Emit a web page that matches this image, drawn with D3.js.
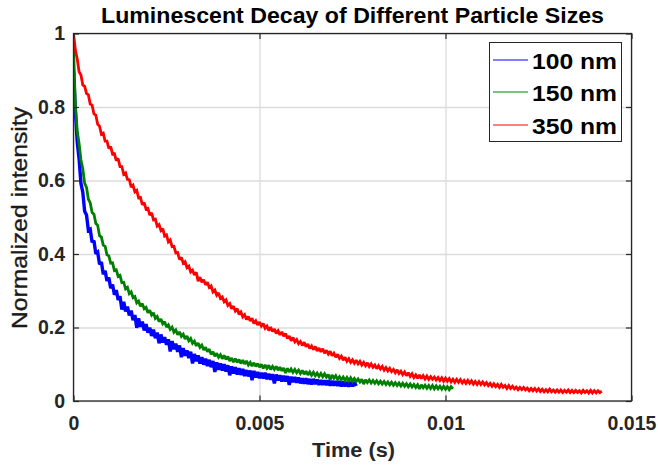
<!DOCTYPE html>
<html>
<head>
<meta charset="utf-8">
<script src="https://cdn.jsdelivr.net/npm/d3@7/dist/d3.min.js"></script>
<style>
  html, body { margin: 0; padding: 0; background: #fff; }
  svg { display: block; }
  text { font-family: "Liberation Sans", Arial, Helvetica, sans-serif; }
</style>
</head>
<body>
<svg id="chart" width="658" height="469"></svg>
<script>
// Sampling interval of the decay traces (seconds per sample)
const sampleInterval = 0.00005;

// Normalized luminescence intensity, one sample every sampleInterval
const intensity100nm = [
  0.900,0.788,0.705,0.659,0.592,0.568,0.516,0.506,0.464,0.467,
  0.432,0.436,0.401,0.405,0.372,0.378,0.345,0.354,0.327,0.336,
  0.307,0.317,0.289,0.302,0.275,0.285,0.249,0.270,0.244,0.257,
  0.233,0.246,0.220,0.234,0.199,0.225,0.202,0.216,0.192,0.209,
  0.186,0.200,0.177,0.194,0.171,0.186,0.157,0.181,0.159,0.174,
  0.153,0.168,0.135,0.163,0.141,0.156,0.134,0.151,0.119,0.144,
  0.123,0.138,0.117,0.134,0.102,0.128,0.108,0.124,0.102,0.119,
  0.099,0.115,0.095,0.112,0.092,0.109,0.079,0.105,0.085,0.102,
  0.083,0.100,0.080,0.097,0.070,0.094,0.075,0.092,0.072,0.089,
  0.071,0.087,0.068,0.084,0.067,0.083,0.057,0.082,0.064,0.079,
  0.062,0.077,0.061,0.077,0.059,0.074,0.058,0.073,0.048,0.072,
  0.056,0.070,0.053,0.069,0.053,0.068,0.044,0.066,0.051,0.065,
  0.050,0.064,0.048,0.062,0.047,0.062,0.046,0.060,0.045,0.060,
  0.046,0.058,0.044,0.057,0.044,0.056,0.043,0.056,0.042,0.055,
  0.042,0.054,0.041,0.054,0.040,0.053,0.040,0.052,0.039,0.052,
  0.040,0.052,0.041
];

const intensity150nm = [
  0.960,0.806,0.735,0.701,0.656,0.632,0.592,0.581,0.549,0.539,
  0.513,0.508,0.483,0.478,0.450,0.446,0.424,0.421,0.398,0.395,
  0.375,0.376,0.355,0.357,0.339,0.342,0.322,0.323,0.305,0.309,
  0.292,0.297,0.281,0.284,0.267,0.272,0.258,0.265,0.251,0.255,
  0.240,0.247,0.234,0.240,0.225,0.230,0.216,0.223,0.210,0.216,
  0.201,0.207,0.195,0.201,0.187,0.193,0.180,0.188,0.176,0.182,
  0.169,0.177,0.164,0.170,0.157,0.163,0.150,0.158,0.146,0.152,
  0.139,0.146,0.134,0.141,0.127,0.134,0.122,0.130,0.119,0.126,
  0.115,0.124,0.113,0.121,0.109,0.117,0.106,0.115,0.105,0.113,
  0.102,0.111,0.101,0.109,0.098,0.105,0.095,0.104,0.094,0.102,
  0.092,0.100,0.089,0.098,0.089,0.097,0.086,0.094,0.086,0.094,
  0.084,0.092,0.082,0.090,0.076,0.089,0.079,0.087,0.078,0.086,
  0.077,0.084,0.075,0.083,0.073,0.081,0.071,0.079,0.070,0.078,
  0.069,0.076,0.067,0.075,0.066,0.074,0.065,0.072,0.058,0.071,
  0.062,0.069,0.059,0.066,0.058,0.065,0.056,0.064,0.055,0.063,
  0.054,0.061,0.053,0.060,0.052,0.059,0.046,0.058,0.050,0.057,
  0.049,0.056,0.048,0.055,0.047,0.054,0.046,0.053,0.045,0.052,
  0.044,0.051,0.043,0.050,0.042,0.049,0.041,0.048,0.040,0.047,
  0.039,0.046,0.038,0.045,0.037,0.044,0.033,0.044,0.036,0.043,
  0.035,0.042,0.034,0.042,0.033,0.041,0.033,0.040,0.032,0.040,
  0.032,0.039,0.031,0.039,0.033
];

const intensity350nm = [
  1.000,0.955,0.931,0.896,0.887,0.860,0.856,0.837,0.833,0.808,
  0.805,0.781,0.778,0.753,0.748,0.726,0.729,0.707,0.707,0.687,
  0.692,0.672,0.673,0.654,0.660,0.638,0.638,0.617,0.621,0.603,
  0.602,0.582,0.587,0.569,0.573,0.553,0.554,0.534,0.540,0.522,
  0.524,0.506,0.512,0.493,0.495,0.476,0.480,0.464,0.469,0.449,
  0.452,0.433,0.438,0.420,0.421,0.403,0.404,0.385,0.391,0.375,
  0.379,0.363,0.367,0.351,0.356,0.343,0.350,0.326,0.337,0.323,
  0.330,0.316,0.323,0.309,0.313,0.297,0.302,0.288,0.294,0.279,
  0.283,0.270,0.275,0.260,0.265,0.251,0.258,0.245,0.251,0.236,
  0.242,0.229,0.235,0.222,0.230,0.218,0.225,0.211,0.218,0.207,
  0.215,0.204,0.211,0.198,0.204,0.192,0.201,0.189,0.196,0.184,
  0.191,0.180,0.188,0.176,0.184,0.170,0.177,0.164,0.173,0.161,
  0.167,0.156,0.162,0.151,0.160,0.148,0.155,0.143,0.150,0.140,
  0.148,0.136,0.144,0.134,0.142,0.130,0.138,0.128,0.135,0.123,
  0.130,0.119,0.127,0.116,0.122,0.111,0.119,0.108,0.115,0.105,
  0.112,0.103,0.111,0.101,0.108,0.098,0.105,0.096,0.104,0.094,
  0.101,0.092,0.098,0.088,0.096,0.087,0.094,0.084,0.091,0.082,
  0.089,0.080,0.086,0.077,0.085,0.075,0.081,0.072,0.079,0.069,
  0.077,0.067,0.074,0.064,0.071,0.062,0.071,0.061,0.069,0.060,
  0.068,0.059,0.066,0.059,0.065,0.057,0.064,0.056,0.063,0.054,
  0.062,0.054,0.061,0.052,0.059,0.051,0.059,0.051,0.058,0.049,
  0.056,0.048,0.056,0.048,0.055,0.046,0.053,0.045,0.053,0.045,
  0.052,0.044,0.050,0.042,0.048,0.040,0.047,0.039,0.045,0.037,
  0.045,0.037,0.042,0.034,0.042,0.034,0.040,0.033,0.038,0.031,
  0.037,0.031,0.037,0.030,0.035,0.028,0.034,0.028,0.034,0.027,
  0.033,0.026,0.032,0.025,0.031,0.025,0.032,0.025,0.030,0.024,
  0.030,0.024,0.030,0.023,0.029,0.024,0.030,0.023,0.029,0.023,
  0.029,0.023,0.028,0.022,0.029,0.023,0.028,0.022,0.029,0.022,
  0.028,0.022,0.028,0.023,0.027
];

const seriesNames = ["100 nm", "150 nm", "350 nm"];
const seriesColors = ["#0000ff", "#008000", "#ff0000"];
const seriesValues = [intensity100nm, intensity150nm, intensity350nm];
const seriesWidths = [3.4, 2.8, 2.8];

const xTickValues = [0, 0.005, 0.01, 0.015];
const xTickLabels = ["0", "0.005", "0.01", "0.015"];
const yTickValues = [0, 0.2, 0.4, 0.6, 0.8, 1];
const yTickLabels = ["0", "0.2", "0.4", "0.6", "0.8", "1"];

const chartTitle = "Luminescent Decay of Different Particle Sizes";
const xLabel = "Time (s)";
const yLabel = "Normalized intensity";

// ---- layout ----
const svg = d3.select("#chart");
const plot = { left: 73.5, right: 631.5, top: 33.5, bottom: 401 };
const axisColor = "#262626";

const x = d3.scaleLinear().domain([0, 0.015]).range([plot.left, plot.right]);
const y = d3.scaleLinear().domain([0, 1]).range([plot.bottom, plot.top]);

svg.append("rect").attr("width", 658).attr("height", 469).attr("fill", "#fff");

// grid
const grid = svg.append("g").attr("class", "grid");
grid.append("g")
  .attr("transform", `translate(0,${plot.bottom})`)
  .call(d3.axisBottom(x).tickValues(xTickValues).tickSize(-(plot.bottom - plot.top)).tickFormat(""));
grid.append("g")
  .attr("transform", `translate(${plot.left},0)`)
  .call(d3.axisLeft(y).tickValues(yTickValues).tickSize(-(plot.right - plot.left)).tickFormat(""));
grid.selectAll(".domain").remove();
grid.selectAll("line").attr("stroke", "#dcdcdc").attr("stroke-width", 1.3);

// traces, clipped to the axes box
svg.append("clipPath").attr("id", "plot-clip")
  .append("rect")
  .attr("x", plot.left).attr("y", plot.top)
  .attr("width", plot.right - plot.left).attr("height", plot.bottom - plot.top);

const line = d3.line()
  .x((d, i) => x(i * sampleInterval))
  .y(d => y(d));

const traces = svg.append("g").attr("clip-path", "url(#plot-clip)");
seriesValues.forEach((vals, k) => {
  traces.append("path")
    .datum(vals)
    .attr("fill", "none")
    .attr("stroke", seriesColors[k])
    .attr("stroke-width", seriesWidths[k])
    .attr("stroke-linejoin", "miter")
    .attr("stroke-miterlimit", 2)
    .attr("d", line);
});

// axes with inward ticks
const tickLen = 5.5;
const fmtX = (d, i) => xTickLabels[i];
const fmtY = (d, i) => yTickLabels[i];

const axB = svg.append("g").attr("transform", `translate(0,${plot.bottom})`)
  .call(d3.axisBottom(x).tickValues(xTickValues).tickSize(-tickLen).tickPadding(15).tickFormat(fmtX));
const axT = svg.append("g").attr("transform", `translate(0,${plot.top})`)
  .call(d3.axisTop(x).tickValues(xTickValues).tickSize(-tickLen).tickFormat(""));
const axL = svg.append("g").attr("transform", `translate(${plot.left},0)`)
  .call(d3.axisLeft(y).tickValues(yTickValues).tickSize(-tickLen).tickPadding(8.5).tickFormat(fmtY));
const axR = svg.append("g").attr("transform", `translate(${plot.right},0)`)
  .call(d3.axisRight(y).tickValues(yTickValues).tickSize(-tickLen).tickFormat(""));

[axB, axT, axL, axR].forEach(g => {
  g.select(".domain").remove();
  g.selectAll("line").attr("stroke", axisColor).attr("stroke-width", 1.2);
  g.selectAll("text")
    .attr("fill", axisColor)
    .style("font-family", '"Liberation Sans", Arial, sans-serif')
    .style("font-size", "19.5px")
    .style("font-weight", "bold");
});

svg.append("rect")
  .attr("x", plot.left).attr("y", plot.top)
  .attr("width", plot.right - plot.left).attr("height", plot.bottom - plot.top)
  .attr("fill", "none").attr("stroke", axisColor).attr("stroke-width", 1.3);

// title and axis labels
svg.append("text")
  .attr("x", 352.5).attr("y", 23)
  .attr("text-anchor", "middle")
  .attr("textLength", 503).attr("lengthAdjust", "spacingAndGlyphs")
  .style("font-size", "21.5px").style("font-weight", "bold")
  .attr("fill", "#000")
  .text(chartTitle);

svg.append("text")
  .attr("x", 353.5).attr("y", 457)
  .attr("text-anchor", "middle")
  .attr("textLength", 83).attr("lengthAdjust", "spacingAndGlyphs")
  .style("font-size", "19.5px").style("font-weight", "bold")
  .attr("fill", axisColor)
  .text(xLabel);

svg.append("text")
  .attr("transform", `translate(27,218) rotate(-90)`)
  .attr("text-anchor", "middle")
  .attr("textLength", 222).attr("lengthAdjust", "spacingAndGlyphs")
  .style("font-size", "21.5px")
  .attr("fill", "#1a1a1a")
  .attr("stroke", "#1a1a1a").attr("stroke-width", 0.35)
  .text(yLabel);

// legend
const legend = svg.append("g");
legend.append("rect")
  .attr("x", 489.5).attr("y", 42.5).attr("width", 132).attr("height", 99)
  .attr("fill", "#fff").attr("stroke", axisColor).attr("stroke-width", 1);
const legendRows = [60, 92, 125];
seriesNames.forEach((name, k) => {
  legend.append("line")
    .attr("x1", 493).attr("x2", 528)
    .attr("y1", legendRows[k]).attr("y2", legendRows[k])
    .attr("stroke", seriesColors[k]).attr("stroke-width", 1);
  legend.append("text")
    .attr("x", 532).attr("y", legendRows[k] + 9.3)
    .attr("textLength", 85).attr("lengthAdjust", "spacingAndGlyphs")
    .style("font-size", "22.5px").style("font-weight", "bold")
    .attr("fill", "#000")
    .text(name);
});
</script>
</body>
</html>
